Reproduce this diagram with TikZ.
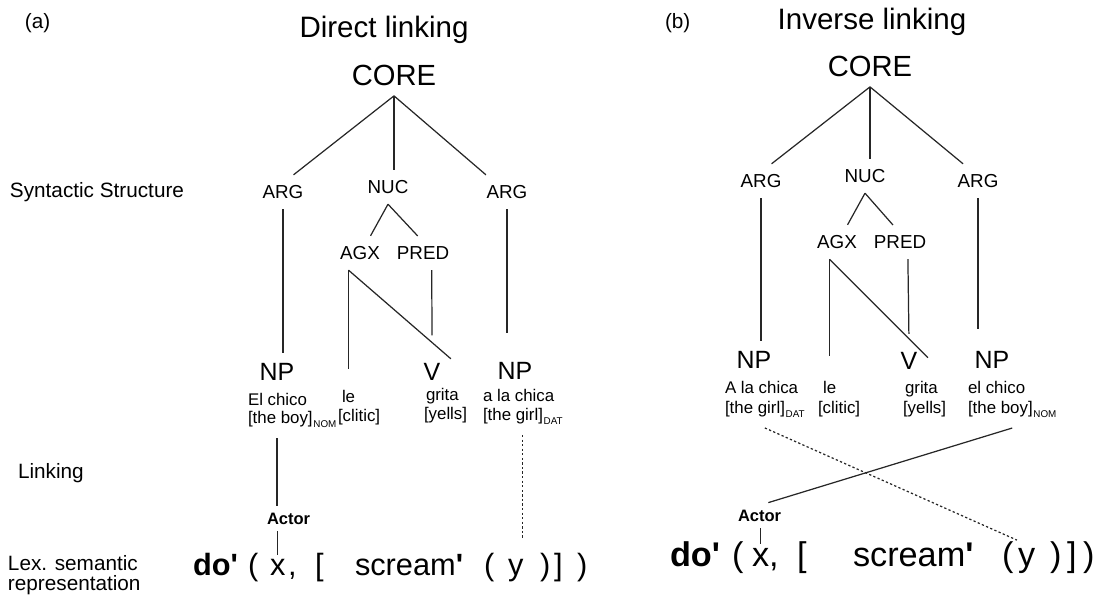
\documentclass[tikz,border=0pt]{standalone}
\usepackage{fontspec}
\setmainfont{Liberation Sans}
\newcommand{\txtsize}[1]{\fontsize{#1}{#1}\selectfont}
\newcommand{\casemark}[1]{\kern0.4pt\raisebox{-2.5pt}{\fontsize{5.6}{6}\selectfont #1}}
\begin{document}
\begin{tikzpicture}[x=0.02cm, y=-0.02cm,
    every node/.style={inner sep=0pt, outer sep=6pt},
    topic/.style={font=\txtsize{16.8}, anchor=base},
    corecat/.style={font=\txtsize{16.6}},
    cat/.style={font=\txtsize{10.7}},
    phrase/.style={font=\txtsize{14.2}},
    word/.style={font=\txtsize{9.6}, anchor=base west, xshift=-6pt},
    side/.style={font=\txtsize{11.8}, anchor=base west, xshift=-6pt},
    role/.style={font=\bfseries\txtsize{9.4}, anchor=base west, outer sep=4pt, xshift=-4pt},
    semA/.style={font=\txtsize{17.5}, anchor=base west, outer sep=2pt, xshift=-2pt},
    semB/.style={font=\txtsize{19.5}, anchor=base west, outer sep=2pt, xshift=-2pt},
    tree/.style={line width=0.7pt, black!85},
    link/.style={tree, dash pattern=on 1.3pt off 1.3pt}]
    \useasboundingbox (0,0) rectangle (1106,599);

    % headings and row labels
    \node[side] (tagA) at (25,28) {(a)};
    \node[side] (tagB) at (665,28) {(b)};
    \node[topic] (titleA) at (384,37) {Direct linking};
    \node[topic] (titleB) at (872,29) {Inverse linking};
    \node[side] (syntax) at (10,197) {Syntactic Structure};
    \node[side] (linking) at (18,478) {Linking};
    \node[side] (lexA) at (8,570) {Lex. semantic};
    \node[side] (lexB) at (8,590) {representation};

    % (a) direct linking
    \node[corecat] (coreA) at (394,75) {CORE};
    \node[cat] (argA1) at (283,192) {ARG};
    \node[cat] (nucA) at (388,187) {NUC};
    \node[cat] (argA2) at (507,192) {ARG};
    \node[cat] (agxA) at (360,253) {AGX};
    \node[cat] (predA) at (423,253) {PRED};
    \node[phrase] (npA1) at (277,372) {NP};
    \node[phrase] (vA) at (432,372) {V};
    \node[phrase] (npA2) at (515,371) {NP};

    \node[word] (chicoA) at (248,405) {El chico};
    \node[word] (boyA) at (248,423) {[the boy]\casemark{NOM}};
    \node[word] (leA) at (342,402) {le};
    \node[word] (cliticA) at (338,421) {[clitic]};
    \node[word] (gritaA) at (426,400) {grita};
    \node[word] (yellsA) at (424,419) {[yells]};
    \node[word] (chicaA) at (483,401) {a la chica};
    \node[word] (girlA) at (483,420) {[the girl]\casemark{DAT}};

    \node[role] (actorA) at (267,524) {Actor};

    \node[semA] (doA) at (193,575) {\bfseries do\textquotesingle};
    \node[semA] (opA1) at (248,575) {(};
    \node[semA] (xA) at (270,575) {x};
    \node[semA] (commaA) at (288,575) {,};
    \node[semA] (sqA1) at (315,575) {[};
    \node[semA] (screamA) at (355,575) {scream{\bfseries\textquotesingle}};
    \node[semA] (opA2) at (484,575) {(};
    \node[semA] (yA) at (508,575) {y};
    \node[semA] (clA1) at (540,575) {)};
    \node[semA] (sqA2) at (554,575) {]};
    \node[semA] (clA2) at (577,575) {)};

    \draw[tree] (coreA.south) -- ([xshift=6pt]argA1.north);
    \draw[tree] (coreA.south) -- (coreA.south |- nucA.north);
    \draw[tree] (coreA.south) -- ([xshift=-12pt]argA2.north);
    \draw[tree] (nucA.south) -- ([xshift=6pt]agxA.north);
    \draw[tree] (nucA.south) -- ([xshift=-3pt]predA.north);
    \draw[tree] (argA1.south) -- (argA1.south |- npA1.north);
    \draw[tree, shorten >=6pt] (agxA.south -| leA.north) -- (leA.north);
    \draw[tree] (agxA.south -| leA.north) -- (vA.35);
    \draw[tree, shorten >=10pt] ([xshift=5pt]predA.south) -- (vA.north);
    \draw[tree, shorten >=11pt] (argA2.south) -- (argA2.south |- npA2.north);

    \draw[tree] (boyA.south -| npA1) -- (actorA.north -| npA1);
    \draw[tree] (actorA.south -| xA) -- (xA.north);
    \draw[link, shorten >=10pt] (girlA.south) -- (girlA.south |- yA.north);

    % (b) inverse linking
    \node[corecat] (coreB) at (870,66) {CORE};
    \node[cat] (argB1) at (761,181) {ARG};
    \node[cat] (nucB) at (865,176) {NUC};
    \node[cat] (argB2) at (978,181) {ARG};
    \node[cat] (agxB) at (837,242) {AGX};
    \node[cat] (predB) at (900,242) {PRED};
    \node[phrase] (npB1) at (754,360) {NP};
    \node[phrase] (vB) at (909,361) {V};
    \node[phrase] (npB2) at (992,360) {NP};

    \node[word] (chicaB) at (725,393) {A la chica};
    \node[word] (girlB) at (725,413) {[the girl]\casemark{DAT}};
    \node[word] (leB) at (823,393) {le};
    \node[word] (cliticB) at (818,413) {[clitic]};
    \node[word] (gritaB) at (905,393) {grita};
    \node[word] (yellsB) at (903,413) {[yells]};
    \node[word] (chicoB) at (968,393) {el chico};
    \node[word] (boyB) at (968,413) {[the boy]\casemark{NOM}};

    \node[role] (actorB) at (738,521) {Actor};

    \node[semB] (doB) at (670,566) {\bfseries do\textquotesingle};
    \node[semB] (opB1) at (732,566) {(};
    \node[semB] (xB) at (752,566) {x};
    \node[semB] (commaB) at (769,566) {,};
    \node[semB] (sqB1) at (797,566) {[};
    \node[semB] (screamB) at (853,566) {scream{\bfseries\textquotesingle}};
    \node[semB] (opB2) at (1002,566) {(};
    \node[semB] (yB) at (1018,566) {y};
    \node[semB] (clB1) at (1050,566) {)};
    \node[semB] (sqB2) at (1067,566) {]};
    \node[semB] (clB2) at (1083,566) {)};

    \draw[tree] (coreB.south) -- ([xshift=6pt]argB1.north);
    \draw[tree] (coreB.south) -- (coreB.south |- nucB.north);
    \draw[tree] (coreB.south) -- ([xshift=-8.5pt]argB2.north);
    \draw[tree] (nucB.south) -- ([xshift=6pt]agxB.north);
    \draw[tree] (nucB.south) -- ([xshift=-4pt]predB.north);
    \draw[tree] (argB1.south) -- (argB1.south |- npB1.north);
    \draw[tree, shorten >=8pt] (agxB.south -| leB.north) -- (leB.north);
    \draw[tree] (agxB.south -| leB.north) -- (vB.10);
    \draw[tree, shorten >=4.5pt] ([xshift=4.5pt]predB.south) -- (vB.north);
    \draw[tree, shorten >=7pt] (argB2.south) -- (argB2.south |- npB2.north);

    \draw[link, shorten >=6pt] (girlB.south) -- (yB.north);
    \draw[tree] (boyB.south) -- ([xshift=5pt]actorB.north);
    \draw[tree] (actorB.south -| xB) -- (xB.north);
\end{tikzpicture}
\end{document}
